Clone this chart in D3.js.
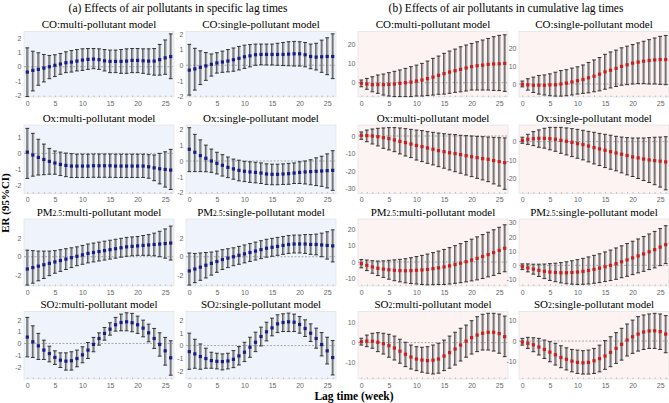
<!DOCTYPE html>
<html>
<head>
<meta charset="utf-8">
<script src="https://cdn.jsdelivr.net/npm/d3@7/dist/d3.min.js"></script>
<style>
  body { margin: 0; background: #fff; }
  text { font-family: "Liberation Serif", "Times New Roman", serif; fill: #000; }
  .tick text { font-family: "Liberation Sans", Arial, sans-serif; font-size: 7px; fill: #666; }
</style>
</head>
<body>
<script>

//--------------------------------------------------------------------------
//
// data
//

var lags = [0,1,2,3,4,5,6,7,8,9,10,11,12,13,14,15,16,17,18,19,20,21,22,23,24,25,26];
var lagTicks = [0,5,10,15,20,25];

// (a) specific lag times
var coMultiSpecEst = [-0.38,-0.26,-0.19,-0.10,0.00,0.10,0.19,0.28,0.33,0.40,0.47,0.52,0.54,0.50,0.42,0.38,0.38,0.38,0.40,0.45,0.45,0.42,0.40,0.40,0.50,0.63,0.72];
var coMultiSpecHi  = [1.34,1.10,0.99,0.87,0.80,0.85,0.94,1.06,1.15,1.22,1.27,1.29,1.29,1.27,1.22,1.18,1.18,1.22,1.27,1.29,1.29,1.27,1.27,1.29,1.58,1.90,2.33];
var coMultiSpecLo  = [-2.12,-1.72,-1.32,-1.08,-0.85,-0.70,-0.54,-0.42,-0.38,-0.30,-0.26,-0.19,-0.14,-0.19,-0.30,-0.42,-0.42,-0.47,-0.47,-0.42,-0.42,-0.47,-0.54,-0.60,-0.60,-0.54,-0.85];

var coSingleSpecEst = [-0.31,-0.23,-0.13,-0.04,0.06,0.15,0.21,0.27,0.35,0.44,0.54,0.60,0.67,0.69,0.69,0.69,0.69,0.69,0.71,0.73,0.73,0.67,0.56,0.52,0.54,0.56,0.56];
var coSingleSpecHi  = [1.33,1.08,0.92,0.81,0.72,0.80,0.90,1.00,1.10,1.20,1.28,1.32,1.35,1.35,1.35,1.35,1.40,1.45,1.50,1.52,1.50,1.45,1.35,1.40,1.60,1.75,2.00];
var coSingleSpecLo  = [-1.90,-1.58,-1.23,-0.96,-0.69,-0.50,-0.45,-0.42,-0.38,-0.30,-0.20,-0.10,0.00,0.03,0.02,0.02,0.00,-0.02,-0.03,-0.05,-0.05,-0.10,-0.22,-0.30,-0.45,-0.60,-0.85];

var oxMultiSpecEst = [0.08,-0.10,-0.25,-0.38,-0.50,-0.60,-0.69,-0.75,-0.79,-0.79,-0.79,-0.79,-0.77,-0.77,-0.77,-0.77,-0.79,-0.79,-0.79,-0.79,-0.79,-0.79,-0.83,-0.90,-0.96,-1.00,-1.04];
var oxMultiSpecHi  = [1.56,1.25,0.88,0.58,0.31,0.15,0.08,0.02,-0.02,-0.05,-0.05,-0.05,-0.04,-0.04,-0.04,-0.04,-0.05,-0.05,-0.05,-0.05,-0.05,-0.05,-0.08,-0.10,0.00,0.10,0.25];
var oxMultiSpecLo  = [-1.56,-1.42,-1.35,-1.33,-1.30,-1.30,-1.38,-1.45,-1.50,-1.50,-1.50,-1.50,-1.49,-1.49,-1.49,-1.49,-1.50,-1.50,-1.50,-1.50,-1.50,-1.50,-1.55,-1.70,-1.90,-2.10,-2.25];

var oxSingleSpecEst = [0.74,0.55,0.34,0.17,0.00,-0.15,-0.27,-0.40,-0.50,-0.59,-0.65,-0.69,-0.72,-0.76,-0.82,-0.84,-0.84,-0.82,-0.80,-0.76,-0.72,-0.69,-0.67,-0.65,-0.63,-0.61,-0.59];
var oxSingleSpecHi  = [2.10,1.68,1.33,1.00,0.75,0.55,0.40,0.25,0.12,0.05,-0.02,-0.05,-0.08,-0.12,-0.18,-0.20,-0.20,-0.18,-0.15,-0.12,-0.05,0.00,0.08,0.20,0.30,0.45,0.65];
var oxSingleSpecLo  = [-0.67,-0.67,-0.67,-0.68,-0.72,-0.82,-0.95,-1.05,-1.15,-1.25,-1.30,-1.35,-1.38,-1.42,-1.48,-1.50,-1.50,-1.48,-1.47,-1.42,-1.42,-1.45,-1.50,-1.55,-1.60,-1.70,-1.85];

var pmMultiSpecEst = [-1.30,-1.15,-1.00,-0.85,-0.70,-0.55,-0.40,-0.25,-0.10,0.05,0.20,0.35,0.45,0.55,0.65,0.75,0.85,0.95,1.05,1.10,1.15,1.20,1.25,1.30,1.35,1.40,1.45];
var pmMultiSpecHi  = [0.70,0.65,0.60,0.60,0.60,0.65,0.75,0.85,0.95,1.05,1.20,1.35,1.45,1.55,1.65,1.75,1.85,1.95,2.05,2.10,2.15,2.25,2.35,2.50,2.70,2.95,3.25];
var pmMultiSpecLo  = [-3.00,-2.80,-2.55,-2.30,-2.00,-1.75,-1.55,-1.35,-1.15,-0.95,-0.80,-0.65,-0.55,-0.45,-0.35,-0.25,-0.15,-0.05,0.05,0.10,0.15,0.15,0.15,0.10,0.00,-0.15,-0.35];

var pmSingleSpecEst = [-1.50,-1.30,-1.10,-0.90,-0.70,-0.50,-0.30,-0.15,0.00,0.15,0.30,0.45,0.60,0.75,0.90,1.00,1.10,1.20,1.30,1.35,1.35,1.35,1.30,1.30,1.25,1.20,1.15];
var pmSingleSpecHi  = [0.40,0.35,0.40,0.45,0.50,0.60,0.75,0.85,0.95,1.10,1.25,1.40,1.55,1.70,1.85,1.95,2.05,2.15,2.25,2.30,2.30,2.35,2.35,2.40,2.50,2.65,2.85];
var pmSingleSpecLo  = [-3.00,-2.75,-2.50,-2.25,-1.95,-1.65,-1.35,-1.15,-0.95,-0.80,-0.65,-0.50,-0.35,-0.20,-0.05,0.05,0.15,0.25,0.35,0.40,0.40,0.35,0.25,0.20,0.00,-0.25,-0.55];

var so2MultiSpecEst = [0.54,0.14,-0.20,-0.56,-0.85,-1.18,-1.41,-1.49,-1.46,-1.27,-0.96,-0.56,-0.08,0.42,0.85,1.21,1.58,1.77,1.83,1.75,1.58,1.30,0.90,0.42,-0.08,-0.62,-1.21];
var so2MultiSpecHi  = [2.20,1.49,0.85,0.28,-0.23,-0.62,-0.79,-0.79,-0.70,-0.56,-0.28,0.08,0.51,0.90,1.35,1.75,2.20,2.48,2.59,2.54,2.31,1.97,1.63,1.27,0.90,0.51,0.23];
var so2MultiSpecLo  = [-1.13,-1.18,-1.35,-1.35,-1.55,-1.77,-2.03,-2.25,-2.25,-1.97,-1.63,-1.27,-0.70,-0.14,0.28,0.70,1.04,1.07,1.07,0.99,0.85,0.56,0.14,-0.42,-1.07,-1.83,-2.68];

var so2SingleSpecEst = [-0.48,-0.66,-0.87,-1.03,-1.19,-1.25,-1.27,-1.22,-1.09,-0.82,-0.53,-0.13,0.26,0.72,1.09,1.40,1.72,1.83,1.88,1.85,1.67,1.35,0.98,0.56,0.08,-0.42,-0.95];
var so2SingleSpecHi  = [0.98,0.50,0.13,-0.21,-0.53,-0.61,-0.66,-0.61,-0.40,-0.08,0.26,0.66,1.06,1.46,1.85,2.17,2.44,2.52,2.57,2.49,2.30,2.04,1.72,1.38,1.03,0.66,0.40];
var so2SingleSpecLo  = [-1.88,-1.80,-1.88,-1.80,-1.80,-1.85,-1.93,-1.85,-1.75,-1.54,-1.27,-0.93,-0.48,-0.03,0.37,0.77,1.03,1.11,1.11,1.11,0.98,0.72,0.32,-0.21,-0.82,-1.46,-2.33];

// (b) cumulative lag times
var coMultiCumEst = [-0.3,-0.7,-1.0,-1.0,-1.0,-0.9,-0.7,-0.3,0.0,0.3,0.9,1.4,2.1,2.9,3.8,4.7,5.5,6.2,6.9,7.6,8.3,8.8,9.1,9.5,9.7,9.8,10.0];
var coMultiCumHi  = [1.4,2.2,3.1,4.0,4.5,5.2,5.9,6.6,7.4,8.3,9.1,10.0,11.2,12.6,13.8,15.2,16.4,17.4,18.6,19.5,20.3,21.2,22.1,22.9,23.8,24.5,24.8];
var coMultiCumLo  = [-2.1,-3.4,-4.7,-5.5,-6.4,-6.9,-7.2,-7.2,-7.2,-7.2,-6.9,-6.9,-6.6,-6.4,-6.0,-5.9,-5.5,-5.0,-4.7,-4.3,-3.8,-3.8,-3.8,-3.8,-4.0,-4.1,-4.5];

var coSingleCumEst = [-0.2,-0.5,-0.7,-0.7,-0.7,-0.5,-0.4,0.0,0.5,1.1,1.8,2.5,3.4,4.3,5.4,6.7,7.6,8.6,9.7,10.6,11.5,12.1,12.6,13.0,13.3,13.5,13.5];
var coSingleCumHi  = [1.6,2.9,3.8,4.7,5.0,5.6,6.5,7.4,7.9,8.8,9.5,10.5,11.9,13.3,14.6,16.4,17.7,18.7,20.0,20.9,21.8,22.7,23.6,24.5,25.4,26.3,26.8];
var coSingleCumLo  = [-1.6,-3.4,-4.7,-5.6,-6.1,-6.5,-6.7,-6.7,-6.5,-6.1,-5.6,-5.2,-4.9,-4.3,-3.8,-2.9,-2.2,-1.4,-0.7,-0.4,0.0,0.2,0.2,0.0,0.0,-0.2,-0.4];

var oxMultiCumEst = [0.4,0.2,0.0,-0.4,-1.0,-1.5,-2.3,-3.1,-3.8,-4.6,-5.4,-6.1,-6.9,-7.6,-8.4,-9.0,-9.6,-10.1,-10.7,-11.3,-11.9,-12.4,-13.0,-13.4,-14.1,-14.7,-15.3];
var oxMultiCumHi  = [2.3,3.4,4.0,4.4,4.6,4.8,4.8,4.6,4.2,3.8,3.4,3.1,2.5,2.1,1.7,1.3,1.0,0.8,0.4,0.2,0.0,-0.2,-0.4,-0.6,-0.8,-1.0,-1.1];
var oxMultiCumLo  = [-1.9,-3.3,-4.6,-5.7,-7.1,-8.0,-9.0,-10.3,-11.5,-12.4,-13.8,-14.7,-15.7,-16.6,-17.6,-18.5,-19.5,-20.5,-21.4,-22.4,-23.3,-24.3,-25.2,-26.2,-27.5,-28.7,-30.6];

var oxSingleCumEst = [0.7,1.3,1.6,1.8,1.8,1.6,1.3,0.7,0.2,-0.4,-1.1,-1.6,-2.4,-3.3,-4.0,-4.7,-5.5,-6.2,-6.9,-7.6,-8.4,-8.9,-9.5,-10.0,-10.4,-10.7,-11.1];
var oxSingleCumHi  = [2.4,4.0,5.5,6.4,7.3,7.8,7.8,7.8,7.5,7.1,6.7,6.2,5.6,5.1,4.5,4.0,3.5,2.9,2.5,2.2,2.0,2.0,2.0,2.2,2.4,2.5,2.7];
var oxSingleCumLo  = [-0.9,-1.5,-2.2,-3.1,-3.6,-4.5,-5.3,-6.4,-7.3,-8.2,-9.1,-10.0,-11.1,-12.2,-13.1,-14.2,-15.1,-16.0,-17.1,-18.2,-19.1,-20.2,-21.3,-22.4,-23.6,-24.9,-26.4];

var pmMultiCumEst = [-1.0,-2.0,-3.0,-3.8,-4.3,-4.7,-5.0,-5.2,-5.3,-5.2,-5.0,-4.8,-4.5,-4.0,-3.5,-3.0,-2.3,-1.5,-0.7,0.2,1.2,2.2,3.3,4.5,5.7,7.0,8.3];
var pmMultiCumHi  = [1.5,1.2,0.8,0.6,0.7,1.0,1.3,1.6,2.0,2.6,3.3,4.0,4.8,5.7,6.6,7.6,8.7,9.9,11.1,12.4,13.8,15.2,16.6,18.0,19.5,21.0,22.5];
var pmMultiCumLo  = [-3.5,-5.2,-6.8,-8.2,-9.3,-10.4,-11.3,-12.0,-12.6,-13.0,-13.3,-13.6,-13.8,-13.7,-13.6,-13.6,-13.3,-12.9,-12.5,-12.0,-11.4,-10.8,-10.0,-9.0,-8.1,-7.0,-5.9];

var pmSingleCumEst = [-1.0,-1.8,-2.7,-3.5,-4.2,-4.7,-5.0,-5.2,-5.2,-5.0,-4.7,-4.2,-3.6,-2.8,-2.0,-1.0,0.0,1.2,2.5,3.8,5.2,6.6,8.0,9.5,11.0,12.8,14.5];
var pmSingleCumHi  = [1.0,1.0,0.8,0.8,0.9,1.2,1.5,1.9,2.5,3.2,4.0,4.9,5.9,7.0,8.1,9.4,10.7,12.2,13.7,15.3,16.9,18.5,20.2,22.0,23.8,25.8,27.8];
var pmSingleCumLo  = [-3.0,-4.6,-6.2,-7.8,-9.3,-10.6,-11.5,-12.3,-12.9,-13.2,-13.4,-13.3,-13.1,-12.6,-12.1,-11.4,-10.7,-9.8,-8.7,-7.7,-6.5,-5.3,-4.2,-3.0,-1.8,-0.2,1.2];

var so2MultiCumEst = [0.5,0.8,0.7,0.2,-0.5,-1.5,-2.7,-4.3,-5.8,-7.2,-8.2,-8.7,-9.0,-8.8,-8.2,-6.7,-5.0,-3.2,-1.2,0.8,2.5,3.8,4.7,5.2,5.2,4.5,3.0];
var so2MultiCumHi  = [2.2,3.8,4.7,5.0,4.7,4.2,3.3,1.7,0.2,-1.2,-2.0,-2.3,-2.0,-1.2,-0.3,1.3,3.3,5.2,7.2,8.8,11.0,13.0,14.2,14.7,14.7,14.3,13.3];
var so2MultiCumLo  = [-1.2,-2.0,-2.8,-4.5,-5.7,-7.3,-8.7,-10.3,-12.0,-13.2,-14.0,-14.8,-15.3,-15.7,-15.3,-14.0,-12.8,-11.2,-9.2,-7.3,-5.7,-4.5,-3.7,-3.7,-4.2,-5.3,-7.0];

var so2SingleCumEst = [-0.5,-1.1,-1.8,-2.9,-4.1,-5.4,-6.7,-8.0,-8.9,-9.8,-10.4,-10.6,-10.4,-9.6,-8.6,-7.3,-5.5,-3.6,-1.6,0.5,2.1,3.4,4.4,4.9,5.0,4.6,3.4];
var so2SingleCumHi  = [1.3,1.8,1.6,1.3,0.5,-0.3,-1.1,-2.3,-3.3,-4.1,-4.4,-4.7,-4.4,-3.6,-2.0,0.2,2.1,4.1,6.2,8.3,10.2,11.9,12.7,13.2,13.5,13.2,12.4];
var so2SingleCumLo  = [-2.0,-3.6,-5.2,-6.8,-8.5,-10.1,-11.7,-13.0,-14.1,-15.0,-15.8,-16.1,-16.1,-15.8,-15.0,-13.8,-12.5,-10.9,-9.3,-7.3,-6.0,-4.9,-4.1,-3.6,-3.6,-4.1,-5.7];

// y tick labels of each panel
var ticksA2 = [-2,-1,0,1,2];
var ticksOxA = [-2,-1,0,1];
var ticksPmA = [-2,0,2];
var ticksCoB = [0,10,20];
var ticksOxMultiB = [-30,-20,-10,0];
var ticksOxSingleB = [-20,-10,0];
var ticksPmMultiB = [-10,0,10,20];
var ticksPmSingleB = [-10,0,10,20,30];
var ticksSo2B = [-10,0,10];

// panel list: pollutant name (+ subscript), model, series, y extent
var panels = [
  {row: 0, col: 0, name: "CO", sub: "", model: "multi", est: coMultiSpecEst, lo: coMultiSpecLo, hi: coMultiSpecHi, ext: [-2.15, 2.5], ticks: ticksA2},
  {row: 0, col: 1, name: "CO", sub: "", model: "single", est: coSingleSpecEst, lo: coSingleSpecLo, hi: coSingleSpecHi, ext: [-2.02, 2.15], ticks: ticksA2},
  {row: 0, col: 2, name: "CO", sub: "", model: "multi", est: coMultiCumEst, lo: coMultiCumLo, hi: coMultiCumHi, ext: [-7.4, 26.5], ticks: ticksCoB},
  {row: 0, col: 3, name: "CO", sub: "", model: "single", est: coSingleCumEst, lo: coSingleCumLo, hi: coSingleCumHi, ext: [-7.2, 29], ticks: ticksCoB},
  {row: 1, col: 0, name: "Ox", sub: "", model: "multi", est: oxMultiSpecEst, lo: oxMultiSpecLo, hi: oxMultiSpecHi, ext: [-2.5, 1.77], ticks: ticksOxA},
  {row: 1, col: 1, name: "Ox", sub: "", model: "single", est: oxSingleSpecEst, lo: oxSingleSpecLo, hi: oxSingleSpecHi, ext: [-2.05, 2.27], ticks: ticksA2},
  {row: 1, col: 2, name: "Ox", sub: "", model: "multi", est: oxMultiCumEst, lo: oxMultiCumLo, hi: oxMultiCumHi, ext: [-33, 6.3], ticks: ticksOxMultiB},
  {row: 1, col: 3, name: "Ox", sub: "", model: "single", est: oxSingleCumEst, lo: oxSingleCumLo, hi: oxSingleCumHi, ext: [-28.4, 9.1], ticks: ticksOxSingleB},
  {row: 2, col: 0, name: "PM", sub: "2.5", model: "multi", est: pmMultiSpecEst, lo: pmMultiSpecLo, hi: pmMultiSpecHi, ext: [-3.1, 4.0], ticks: ticksPmA},
  {row: 2, col: 1, name: "PM", sub: "2.5", model: "single", est: pmSingleSpecEst, lo: pmSingleSpecLo, hi: pmSingleSpecHi, ext: [-3.1, 4.0], ticks: ticksPmA},
  {row: 2, col: 2, name: "PM", sub: "2.5", model: "multi", est: pmMultiCumEst, lo: pmMultiCumLo, hi: pmMultiCumHi, ext: [-14.5, 26], ticks: ticksPmMultiB},
  {row: 2, col: 3, name: "PM", sub: "2.5", model: "single", est: pmSingleCumEst, lo: pmSingleCumLo, hi: pmSingleCumHi, ext: [-14.5, 32.5], ticks: ticksPmSingleB},
  {row: 3, col: 0, name: "SO", sub: "2", model: "multi", est: so2MultiSpecEst, lo: so2MultiSpecLo, hi: so2MultiSpecHi, ext: [-3.0, 2.7], ticks: ticksA2},
  {row: 3, col: 1, name: "SO", sub: "2", model: "single", est: so2SingleSpecEst, lo: so2SingleSpecLo, hi: so2SingleSpecHi, ext: [-2.65, 2.7], ticks: ticksA2},
  {row: 3, col: 2, name: "SO", sub: "2", model: "multi", est: so2MultiCumEst, lo: so2MultiCumLo, hi: so2MultiCumHi, ext: [-18.2, 15.6], ticks: ticksSo2B},
  {row: 3, col: 3, name: "SO", sub: "2", model: "single", est: so2SingleCumEst, lo: so2SingleCumLo, hi: so2SingleCumHi, ext: [-18.5, 14.4], ticks: ticksSo2B}
];

//--------------------------------------------------------------------------
//
// layout
//

var width = 669, height = 403;
var colLeft = [24, 186, 358, 519],
    panelWidth = 150;
var rowTop = [31.5, 125, 219, 311.5],
    rowBottom = [97, 193.5, 286, 379];

var fmt = function(d) { return String(d).replace("\u2212", "-"); };

var svg = d3.select("body").append("svg")
    .attr("width", width)
    .attr("height", height);

svg.append("text")
    .attr("x", 178).attr("y", 12)
    .attr("text-anchor", "middle")
    .style("font-size", "11.5px")
    .text("(a) Effects of air pollutants in specific lag times");

svg.append("text")
    .attr("x", 506).attr("y", 12)
    .attr("text-anchor", "middle")
    .style("font-size", "11.5px")
    .text("(b) Effects of air pollutants in cumulative lag times");

svg.append("text")
    .attr("transform", "translate(9,203) rotate(-90)")
    .attr("text-anchor", "middle")
    .style("font-size", "11px")
    .style("font-weight", "bold")
    .text("ER (95%CI)");

svg.append("text")
    .attr("x", 354).attr("y", 400)
    .attr("text-anchor", "middle")
    .style("font-size", "11.5px")
    .style("font-weight", "bold")
    .text("Lag time (week)");

//--------------------------------------------------------------------------
//
// panels
//

panels.forEach(function(p) {
  var left = colLeft[p.col],
      top = rowTop[p.row],
      h = rowBottom[p.row] - top,
      cum = p.col > 1;

  var x = d3.scaleLinear().domain([-0.6, 26.6]).range([0, panelWidth]);
  var y = d3.scaleLinear().domain(p.ext).range([h, 0]);

  var g = svg.append("g")
      .attr("transform", "translate(" + left + "," + top + ")");

  g.append("rect")
      .attr("width", panelWidth)
      .attr("height", h)
      .attr("fill", cum ? "#fdf3f3" : "#eff4fc")
      .attr("stroke", "#dcdcdc")
      .attr("stroke-width", 0.6);

  // title
  var t = g.append("text")
      .attr("x", panelWidth / 2).attr("y", -3.5)
      .attr("text-anchor", "middle")
      .style("font-size", "11px");
  t.append("tspan").text(p.name);
  if (p.sub) t.append("tspan").style("font-size", "7.5px").text(p.sub);
  t.append("tspan").text(":" + p.model + "-pollutant model");

  // zero line
  g.append("line")
      .attr("x1", 0).attr("x2", panelWidth)
      .attr("y1", y(0)).attr("y2", y(0))
      .attr("stroke", "#888")
      .attr("stroke-width", 0.7)
      .attr("stroke-dasharray", "2,1.5");

  // axes
  g.append("g")
      .call(d3.axisLeft(y).tickValues(p.ticks).tickSize(0).tickPadding(2.5).tickFormat(fmt))
      .call(function(a) { a.select(".domain").remove(); });

  g.append("g")
      .attr("transform", "translate(0," + h + ")")
      .call(d3.axisBottom(x).tickValues(lagTicks).tickSize(0).tickPadding(4))
      .call(function(a) { a.select(".domain").remove(); });

  g.append("g")
      .attr("transform", "translate(0," + h + ")")
      .call(d3.axisBottom(x).tickValues(lags).tickSize(-1.5).tickFormat(""))
      .call(function(a) {
        a.select(".domain").remove();
        a.selectAll("line").attr("stroke", "#999").attr("stroke-width", 0.6);
      });

  // error bars
  var bars = g.append("g").selectAll("g")
      .data(lags)
      .enter().append("g");

  bars.append("line")
      .attr("x1", function(d) { return x(d) + 0.5; })
      .attr("x2", function(d) { return x(d) + 0.5; })
      .attr("y1", function(d, i) { return y(p.lo[i]); })
      .attr("y2", function(d, i) { return y(p.hi[i]); })
      .attr("stroke", "#a3a3a3")
      .attr("stroke-width", 1.8);

  bars.append("line")
      .attr("x1", function(d) { return x(d) - 0.5; })
      .attr("x2", function(d) { return x(d) - 0.5; })
      .attr("y1", function(d, i) { return y(p.lo[i]); })
      .attr("y2", function(d, i) { return y(p.hi[i]); })
      .attr("stroke", "#2a2a2a")
      .attr("stroke-width", 0.7);

  ["lo", "hi"].forEach(function(k) {
    bars.append("line")
        .attr("x1", function(d) { return x(d) - 1.9; })
        .attr("x2", function(d) { return x(d) + 1.9; })
        .attr("y1", function(d, i) { return y(p[k][i]); })
        .attr("y2", function(d, i) { return y(p[k][i]); })
        .attr("stroke", "#222")
        .attr("stroke-width", 0.9);
  });

  // points
  g.append("g").selectAll("rect")
      .data(lags)
      .enter().append("rect")
      .attr("x", function(d) { return x(d) - 1.6; })
      .attr("y", function(d, i) { return y(p.est[i]) - 1.6; })
      .attr("width", 3.2)
      .attr("height", 3.2)
      .attr("fill", cum ? "#d01c1c" : "#1a1a8a");
});

</script>
</body>
</html>
